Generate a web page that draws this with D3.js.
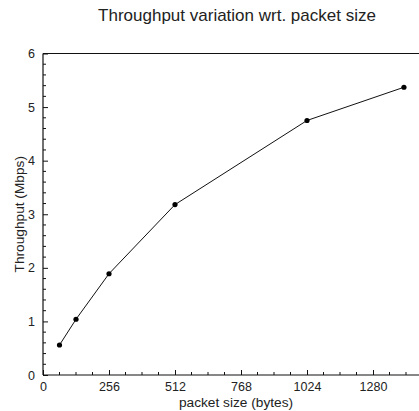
<!DOCTYPE html>
<html>
<head>
<meta charset="utf-8">
<script src="https://cdn.jsdelivr.net/npm/d3@7"></script>
<style>
  body { margin: 0; background: #fff; }
  svg text { font-family: "Liberation Sans", Arial, sans-serif; fill: #222; }
</style>
</head>
<body>
<div id="chart"></div>
<script>
// data
const packetSizes = [64, 128, 256, 512, 1024, 1400];
const throughput = [0.56, 1.04, 1.89, 3.18, 4.75, 5.37];
const xTicks = [0, 256, 512, 768, 1024, 1280];
const yTicks = [0, 1, 2, 3, 4, 5, 6];

const width = 419, height = 411;
const plotLeft = 43, plotBottom = 375, plotTop = 53.5;

const svg = d3.select('#chart').append('svg')
  .attr('width', width)
  .attr('height', height);

// plot runs off the right edge in the original, so the range goes past 419
const x = d3.scaleLinear().domain([0, 1536]).range([plotLeft, plotLeft + 6 * 66]);
const y = d3.scaleLinear().domain([0, 6]).range([plotBottom, plotTop]);

// frame: top line + left axis + bottom axis
svg.append('line')
  .attr('x1', plotLeft).attr('x2', width)
  .attr('y1', y(6)).attr('y2', y(6))
  .attr('stroke', '#111').attr('stroke-width', 1.2);

const xAxis = svg.append('g')
  .attr('transform', `translate(0,${plotBottom})`)
  .call(d3.axisBottom(x).tickValues(xTicks).tickFormat(d3.format('d'))
    .tickSizeInner(-5).tickSizeOuter(0).tickPadding(7));
const yAxis = svg.append('g')
  .attr('transform', `translate(${plotLeft},0)`)
  .call(d3.axisLeft(y).tickValues(yTicks).tickFormat(d3.format('d'))
    .tickSizeInner(-5).tickSizeOuter(0).tickPadding(8));

[xAxis, yAxis].forEach(a => {
  a.select('.domain').attr('stroke', '#111').attr('stroke-width', 1.2);
  a.selectAll('.tick line').attr('stroke', '#111');
  a.selectAll('.tick text').attr('font-size', 12.5).attr('fill', '#222');
});
xAxis.select('.domain').attr('d', `M${plotLeft},0H${width}`);
yAxis.select('.domain').attr('d', `M0,${plotBottom}V${y(6)}`);

// minor ticks
const xMinor = d3.range(64, 1536, 64).filter(v => v % 256 !== 0);
svg.append('g').selectAll('line').data(xMinor).join('line')
  .attr('x1', d => x(d)).attr('x2', d => x(d))
  .attr('y1', plotBottom).attr('y2', plotBottom - 3)
  .attr('stroke', '#111');
const yMinor = d3.range(0.2, 6, 0.2).filter(v => Math.abs(v - Math.round(v)) > 0.01);
svg.append('g').selectAll('line').data(yMinor).join('line')
  .attr('x1', plotLeft).attr('x2', plotLeft + 3)
  .attr('y1', d => y(d)).attr('y2', d => y(d))
  .attr('stroke', '#111');

// series
const pts = packetSizes.map((p, i) => ({ p, t: throughput[i] }));
svg.append('path')
  .datum(pts)
  .attr('fill', 'none')
  .attr('stroke', '#111')
  .attr('stroke-width', 1)
  .attr('d', d3.line().x(d => x(d.p)).y(d => y(d.t)));
svg.append('g').selectAll('circle').data(pts).join('circle')
  .attr('cx', d => x(d.p))
  .attr('cy', d => y(d.t))
  .attr('r', 2.6)
  .attr('fill', '#000');

// labels
svg.append('text')
  .attr('x', 237).attr('y', 21)
  .attr('text-anchor', 'middle')
  .attr('font-size', 17)
  .text('Throughput variation wrt. packet size');
svg.append('text')
  .attr('x', 236).attr('y', 407)
  .attr('text-anchor', 'middle')
  .attr('font-size', 13.7)
  .text('packet size (bytes)');
svg.append('text')
  .attr('transform', `translate(24,${(plotBottom + y(6)) / 2}) rotate(-90)`)
  .attr('text-anchor', 'middle')
  .attr('font-size', 13.7)
  .text('Throughput (Mbps)');
</script>
</body>
</html>
